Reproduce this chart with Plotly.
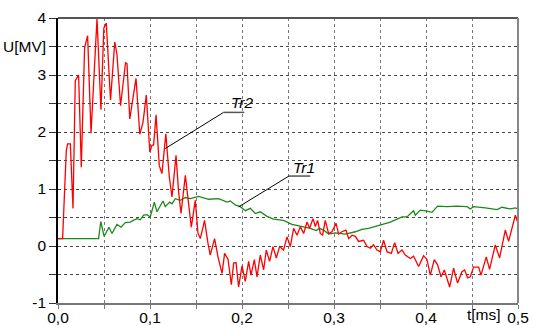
import plotly.graph_objects as go

# ---- data ----
t_tr2 = [0.000, 0.005, 0.009, 0.0104, 0.0134, 0.0163, 0.0188, 0.0224, 0.0253, 0.0289,
         0.0322, 0.0359, 0.0424, 0.0467, 0.0498, 0.0525, 0.0571, 0.0617, 0.0641, 0.0680,
         0.0734, 0.0750, 0.0780, 0.0848, 0.0889, 0.0924, 0.0960, 0.0998, 0.1022, 0.1039,
         0.1066, 0.1101, 0.1130, 0.1172, 0.1185, 0.1210, 0.1239, 0.1283, 0.1311, 0.1337,
         0.1384, 0.1413, 0.1449, 0.1492, 0.1522, 0.1547, 0.1593, 0.1630, 0.1655, 0.1702,
         0.1739, 0.1783, 0.1811, 0.1848, 0.1884, 0.1909, 0.1935, 0.1963, 0.2000, 0.2036,
         0.2072, 0.2098, 0.2134, 0.2163, 0.2199, 0.2235, 0.2264, 0.2300, 0.2337, 0.2373,
         0.2409, 0.2452, 0.2489, 0.2525, 0.2561, 0.2598, 0.2634, 0.2670, 0.2707, 0.2735,
         0.2772, 0.2797, 0.2822, 0.2851, 0.2876, 0.2905, 0.2941, 0.2978, 0.3022, 0.3050,
         0.3087, 0.3130, 0.3159, 0.3196, 0.3232, 0.3267, 0.3322, 0.3359, 0.3395, 0.3430,
         0.3467, 0.3503, 0.3539, 0.3576, 0.3623, 0.3659, 0.3696, 0.3739, 0.3775, 0.3829,
         0.3865, 0.3920, 0.3974, 0.4011, 0.4047, 0.4090, 0.4126, 0.4163, 0.4199, 0.4257,
         0.4300, 0.4343, 0.4391, 0.4420, 0.4452, 0.4482, 0.4517, 0.4572, 0.4598, 0.4655,
         0.4691, 0.4753, 0.4800, 0.4862, 0.4898, 0.4971, 0.5000]
u_tr2 = [0.13, 0.13, 1.67, 1.79, 1.79, 0.66, 2.90, 3.00, 1.38, 3.48,
         3.69, 1.98, 3.99, 2.39, 3.82, 3.91, 2.56, 3.58, 3.36, 2.46,
         3.22, 3.20, 2.23, 2.94, 1.96, 2.17, 2.65, 1.65, 1.77, 1.77,
         2.30, 1.41, 1.27, 1.97, 1.70, 1.21, 0.86, 1.59, 0.95, 0.57,
         1.24, 0.80, 0.33, 0.80, 0.22, 0.13, 0.45, 0.05, -0.16, 0.13,
         -0.19, -0.48, -0.13, -0.23, -0.68, -0.30, -0.29, -0.72, -0.35, -0.62,
         -0.27, -0.51, -0.24, -0.54, -0.16, -0.42, -0.07, -0.27, -0.01, -0.21,
         -0.01, -0.07, 0.16, -0.01, 0.31, 0.19, 0.34, 0.22, 0.42, 0.31,
         0.48, 0.34, 0.45, 0.22, 0.19, 0.45, 0.22, 0.25, 0.40, 0.21,
         0.25, 0.28, 0.13, 0.19, 0.17, 0.08, 0.10, -0.01, -0.04, 0.02,
         -0.07, -0.10, 0.10, -0.10, -0.13, 0.06, -0.13, -0.07, -0.16, -0.22,
         -0.18, -0.36, -0.17, -0.24, -0.51, -0.24, -0.33, -0.54, -0.42, -0.72,
         -0.39, -0.65, -0.45, -0.42, -0.56, -0.54, -0.37, -0.37, -0.51, -0.19,
         -0.41, 0.02, -0.21, 0.28, 0.08, 0.54, 0.40]

t_tr1 = [0.000, 0.0441, 0.0465, 0.0501, 0.0554, 0.0587, 0.0641, 0.0685, 0.0732, 0.0786,
         0.0818, 0.0859, 0.0895, 0.0930, 0.0967, 0.1003, 0.1047, 0.1076, 0.1141, 0.1166,
         0.1213, 0.1239, 0.1275, 0.1329, 0.1384, 0.1438, 0.1528, 0.1637, 0.1746, 0.1837,
         0.1873, 0.1927, 0.1982, 0.2036, 0.2090, 0.2145, 0.2199, 0.2272, 0.2343, 0.2452,
         0.2543, 0.2634, 0.2742, 0.2808, 0.2843, 0.2887, 0.2941, 0.3014, 0.3123, 0.3232,
         0.3304, 0.3376, 0.3449, 0.3522, 0.3612, 0.3685, 0.3739, 0.3793, 0.3865, 0.3884,
         0.3938, 0.4011, 0.4065, 0.4126, 0.4228, 0.4337, 0.4446, 0.4482, 0.4517, 0.4645,
         0.4772, 0.4826, 0.4916, 0.4971, 0.5000]
u_tr1 = [0.13, 0.13, 0.43, 0.17, 0.33, 0.22, 0.38, 0.33, 0.41, 0.42,
         0.45, 0.48, 0.46, 0.54, 0.55, 0.51, 0.77, 0.60, 0.79, 0.69,
         0.77, 0.74, 0.83, 0.80, 0.85, 0.83, 0.87, 0.82, 0.83, 0.77,
         0.79, 0.72, 0.69, 0.62, 0.66, 0.57, 0.60, 0.52, 0.47, 0.45,
         0.38, 0.35, 0.31, 0.27, 0.31, 0.28, 0.21, 0.23, 0.21, 0.25,
         0.29, 0.31, 0.34, 0.38, 0.42, 0.47, 0.51, 0.51, 0.62, 0.54,
         0.63, 0.61, 0.59, 0.70, 0.69, 0.70, 0.69, 0.65, 0.69, 0.67,
         0.64, 0.68, 0.65, 0.67, 0.65]

x_tickvals = [0.0, 0.05, 0.1, 0.15, 0.2, 0.25, 0.3, 0.35, 0.4, 0.45, 0.5]
x_ticktext = ["0,0", "", "0,1", "", "0,2", "", "0,3", "", "0,4", "", "0,5"]
y_tickvals = [4, 3.5, 3, 2.5, 2, 1.5, 1, 0.5, 0, -0.5, -1]
y_ticktext = ["4", "U[MV]", "3", "", "2", "", "1", "", "0", "", "-1"]
x_axis_title = "t[ms]"

# labels: name, text position, underline start/end, leader end (data units)
labels = ["Tr2", "Tr1"]
label_x = [0.2, 0.267]
label_y = [2.52, 1.37]
under_x0 = [0.180, 0.251]
under_x1 = [0.2025, 0.2743]
under_y = [2.344, 1.227]
leader_x = [0.1166, 0.1963]
leader_y = [1.71, 0.686]

FONT = "Liberation Sans, Arial, sans-serif"
FSIZE = 15.5

fig = go.Figure()
fig.add_trace(go.Scatter(x=t_tr1, y=u_tr1, mode="lines",
                         line=dict(color="#1b8a1b", width=1.3), name="Tr1"))
fig.add_trace(go.Scatter(x=t_tr2, y=u_tr2, mode="lines",
                         line=dict(color="#ff0000", width=1.3), name="Tr2"))

for i, name in enumerate(labels):
    fig.add_shape(type="line", xref="x", yref="y",
                  x0=leader_x[i], y0=leader_y[i], x1=under_x0[i], y1=under_y[i],
                  line=dict(color="black", width=1))
    fig.add_shape(type="line", xref="x", yref="y",
                  x0=under_x0[i], y0=under_y[i], x1=under_x1[i], y1=under_y[i],
                  line=dict(color="#555555", width=1.5))
    fig.add_annotation(x=label_x[i], y=label_y[i], xref="x", yref="y",
                       text="<i>" + name + "</i>", showarrow=False,
                       font=dict(family=FONT, size=FSIZE, color="black"))

fig.add_annotation(x=0.484, y=0, xref="x", yref="paper", xanchor="right", yanchor="top",
                   yshift=-1, text=x_axis_title, showarrow=False,
                   font=dict(family=FONT, size=FSIZE, color="black"))

# frame: top and right borders
fig.add_shape(type="line", xref="paper", yref="paper", x0=0, x1=1, y0=1, y1=1,
              line=dict(color="#555555", width=2))
fig.add_shape(type="line", xref="paper", yref="paper", x0=1, x1=1, y0=0, y1=1,
              line=dict(color="#888888", width=2))

fig.update_layout(
    width=533, height=325,
    margin=dict(l=58, r=15, t=18, b=22, autoexpand=False),
    paper_bgcolor="white", plot_bgcolor="white",
    showlegend=False,
    font=dict(family=FONT, size=FSIZE, color="black"),
    xaxis=dict(range=[0, 0.5], tickvals=x_tickvals, ticktext=x_ticktext,
               showgrid=True, gridcolor="#777777", griddash="dot", gridwidth=1,
               ticks="outside", ticklen=4, tickcolor="#777777",
               ticklabelstandoff=-5,
               showline=True, linecolor="#777777", linewidth=2,
               zeroline=False, fixedrange=True, automargin=False),
    yaxis=dict(range=[-1, 4], tickvals=y_tickvals, ticktext=y_ticktext,
               showgrid=True, gridcolor="#444444", griddash="dot", gridwidth=1,
               ticks="outside", ticklen=7, tickcolor="#333333",
               showline=True, linecolor="black", linewidth=1.5,
               zeroline=False, fixedrange=True, automargin=False),
)

fig.write_html("out.html", config={"displayModeBar": False},
               post_script="document.body.style.margin='0';document.body.style.overflow='hidden';")
